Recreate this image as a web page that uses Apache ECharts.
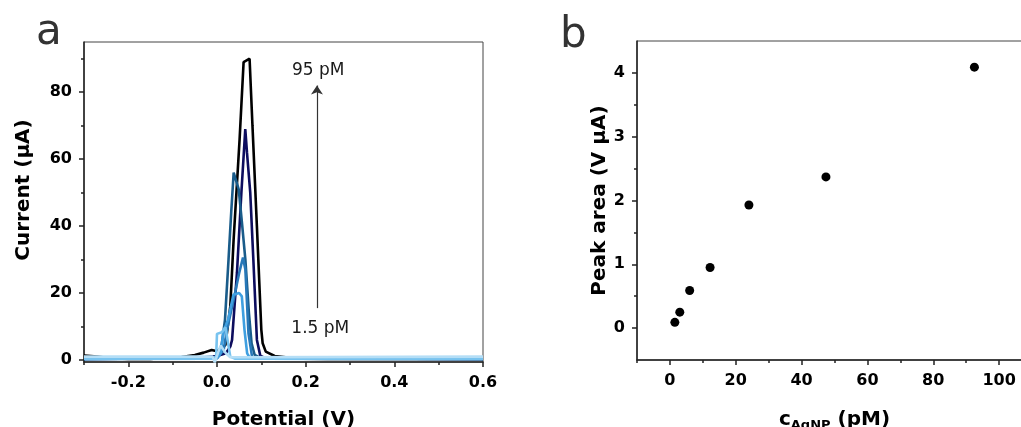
<!DOCTYPE html>
<html>
<head>
<meta charset="utf-8">
<script src="https://cdn.jsdelivr.net/npm/echarts@6/dist/echarts.min.js"></script>
<style>
  html, body { margin: 0; padding: 0; background: #fff; }
  #chart { width: 1021px; height: 427px; }
</style>
</head>
<body>
<div id="chart"></div>
<script>
// panel a: stripping voltammograms, [potential V, current µA]
const curve95 = [[-0.3, 1.3], [-0.27, 1.0], [-0.24, 0.5], [-0.2, 0.3], [-0.15, 0.3], [-0.12, 0.6], [-0.08, 0.9], [-0.05, 1.5], [-0.03, 2.2], [-0.012, 3.0], [0.0, 2.6], [0.01, 3.5], [0.019, 4.5], [0.03, 16], [0.0375, 36], [0.051, 66], [0.06, 89], [0.0735, 90], [0.08, 70], [0.09, 40], [0.1, 9], [0.103, 5], [0.11, 2.5], [0.13, 1.2], [0.16, 0.7], [0.19, 0.4], [0.25, 0.3], [0.6, 0.3]]
const curveNavy = [[-0.3, 0.3], [-0.05, 0.5], [0.0, 1.2], [0.02, 2], [0.03, 4], [0.034, 6], [0.045, 26], [0.055, 50], [0.0638, 69], [0.0676, 62], [0.075, 50], [0.082, 30], [0.09, 6], [0.0976, 1.3], [0.11, 0.5], [0.6, 0.3]]
const curveTeal = [[-0.3, 0.3], [-0.02, 0.4], [0.0, 1], [0.01, 4], [0.018, 12], [0.026, 30], [0.032, 44], [0.0376, 56], [0.049, 51], [0.057, 40], [0.064, 30], [0.072, 14], [0.078, 5], [0.085, 1.5], [0.1, 0.5], [0.6, 0.3]]
const curveSteel = [[-0.3, 0.3], [0.0, 0.5], [0.015, 3], [0.0225, 9], [0.0375, 18], [0.05, 26], [0.0586, 30.6], [0.064, 27], [0.071, 8], [0.079, 1], [0.09, 0.4], [0.6, 0.3]]
const curveBlue = [[-0.3, 0.3], [0.0, 0.5], [0.008, 2], [0.015, 8.7], [0.025, 12], [0.037, 19.5], [0.05, 20], [0.056, 19], [0.062, 9], [0.068, 2], [0.075, 0.4], [0.6, 0.3]]
const curveLight = [[-0.3, 0.4], [-0.01, 0.4], [-0.002, 1], [0.0, 7.8], [0.011, 8.3], [0.019, 9.8], [0.03, 1], [0.04, 0.4], [0.6, 0.4]]
const curve15 = [[-0.3, 1.0], [-0.01, 1.0], [-0.005, -0.7], [0.008, 4.3], [0.02, 2], [0.03, 0.8], [0.6, 1.0]]
const curveColors = ['#000000', '#0d0d5e', '#1a5c8a', '#2878b8', '#3f9fe0', '#78c3ef', '#b5def6']

// panel b: peak area vs AgNP concentration
const concPM = [1.5, 3, 6, 12.2, 24, 47.4, 92.5]
const peakArea = [0.09, 0.25, 0.59, 0.95, 1.93, 2.37, 4.09]

const potentialLabels = [-0.2, 0, 0.2, 0.4, 0.6]
const potentialMinor = [-0.3, -0.1, 0.1, 0.3, 0.5]
const currentLabels = [0, 20, 40, 60, 80]
const currentMinor = [10, 30, 50, 70, 90]
const concLabels = [0, 20, 40, 60, 80, 100]
const concMinor = [-10, 10, 30, 50, 70, 90, 110]
const areaLabels = [0, 1, 2, 3, 4]
const areaMinor = [0.5, 1.5, 2.5, 3.5]

const chart = echarts.init(document.getElementById('chart'), null, { renderer: 'canvas' })

const fontFam = 'DejaVu Sans'
const tickLabel = { color: '#000', fontFamily: fontFam, fontWeight: 'bold', fontSize: 16 }
const axisLineStyle = { color: '#222', width: 1.5 }

const mainX = (gridIndex, min, max, labels, fmt, name) => ({
  type: 'value', gridIndex, min, max, position: 'bottom',
  name, nameLocation: 'middle', nameGap: 48,
  nameTextStyle: { color: '#000', fontFamily: fontFam, fontWeight: 'bold', fontSize: 20, rich: {
    m: { fontFamily: fontFam, fontWeight: 'bold', fontSize: 20, color: '#000' },
    s: { fontFamily: fontFam, fontWeight: 'bold', fontSize: 13, color: '#000', verticalAlign: 'bottom', padding: [11, 0, 0, 0] }
  } },
  axisLine: { show: true, onZero: false, lineStyle: axisLineStyle },
  axisTick: { show: true, length: 5, customValues: labels, lineStyle: axisLineStyle },
  axisLabel: { ...tickLabel, margin: 13, customValues: labels, formatter: fmt },
  splitLine: { show: false }
})
const minorX = (gridIndex, min, max, ticks) => ({
  type: 'value', gridIndex, min, max, position: 'bottom',
  axisLine: { show: false, onZero: false },
  axisTick: { show: true, length: 3, customValues: ticks, lineStyle: axisLineStyle },
  axisLabel: { show: false },
  splitLine: { show: false }
})
const mainY = (gridIndex, min, max, labels, name, gap, pad) => ({
  type: 'value', gridIndex, min, max, position: 'left',
  name, nameLocation: 'middle', nameGap: gap,
  nameTextStyle: { color: '#000', fontFamily: fontFam, fontWeight: 'bold', fontSize: 20, padding: pad },
  axisLine: { show: true, onZero: false, lineStyle: axisLineStyle },
  axisTick: { show: true, length: 5, customValues: labels, lineStyle: axisLineStyle },
  axisLabel: { ...tickLabel, margin: 12, customValues: labels },
  splitLine: { show: false }
})
const minorY = (gridIndex, min, max, ticks) => ({
  type: 'value', gridIndex, min, max, position: 'left',
  axisLine: { show: false, onZero: false },
  axisTick: { show: true, length: 3, customValues: ticks, lineStyle: axisLineStyle },
  axisLabel: { show: false },
  splitLine: { show: false }
})

const curves = [curve95, curveNavy, curveTeal, curveSteel, curveBlue, curveLight, curve15]
const lineSeries = curves.map((data, i) => ({
  type: 'line',
  xAxisIndex: 0,
  yAxisIndex: 0,
  data,
  showSymbol: false,
  symbol: 'none',
  lineStyle: { color: curveColors[i], width: 2.6 },
  z: 2 + i,
  silent: true
}))

// arrow and concentration labels
lineSeries[0].markLine = {
  silent: true,
  symbol: ['none', 'arrow'],
  symbolSize: 9,
  label: { show: false },
  lineStyle: { color: '#333', width: 1.2, type: 'solid' },
  emphasis: { disabled: true },
  data: [[{ coord: [0.2255, 15.5] }, { coord: [0.2255, 82] }]]
}
lineSeries[0].markPoint = {
  silent: true,
  symbolSize: 0,
  label: { show: true, position: 'inside', color: '#1a1a1a', fontFamily: fontFam, fontSize: 17, formatter: (p) => p.name },
  data: [
    { name: '95 pM', coord: [0.2284, 86.6] },
    { name: '1.5 pM', coord: [0.233, 9.25] }
  ]
}

const option = {
  animation: false,
  backgroundColor: '#fff',
  grid: [
    { left: 84, top: 42, width: 399, height: 320, outerBoundsMode: 'none', containLabel: false, show: true, borderColor: '#444', borderWidth: 1 },
    { left: 637, top: 41, width: 395, height: 319, outerBoundsMode: 'none', containLabel: false, show: true, borderColor: '#444', borderWidth: 1 }
  ],
  xAxis: [
    mainX(0, -0.3, 0.6, potentialLabels, (v) => v.toFixed(1), 'Potential (V)'),
    minorX(0, -0.3, 0.6, potentialMinor),
    mainX(1, -10, 110, concLabels, (v) => String(v), '{m|c}{s|AgNP}{m| (pM)}'),
    minorX(1, -10, 110, concMinor)
  ],
  yAxis: [
    mainY(0, -0.6, 95, currentLabels, 'Current (µA)', 50, [0, 0, 0, 24]),
    minorY(0, -0.6, 95, currentMinor),
    mainY(1, -0.5, 4.5, areaLabels, 'Peak area (V µA)', 20, [0, 0, 0, 0]),
    minorY(1, -0.5, 4.5, areaMinor)
  ],
  series: [
    ...lineSeries,
    {
      type: 'scatter',
      xAxisIndex: 2,
      yAxisIndex: 2,
      data: concPM.map((c, i) => [c, peakArea[i]]),
      symbolSize: 9,
      itemStyle: { color: '#000', opacity: 1 },
      silent: true
    }
  ],
  graphic: [
    { type: 'text', left: 36, top: 12, style: { text: 'a', fontFamily: fontFam, fontSize: 42, fill: '#333' } },
    { type: 'text', left: 560, top: 15, style: { text: 'b', fontFamily: fontFam, fontSize: 42, fill: '#333' } }
  ]
}

chart.setOption(option)
</script>
</body>
</html>
